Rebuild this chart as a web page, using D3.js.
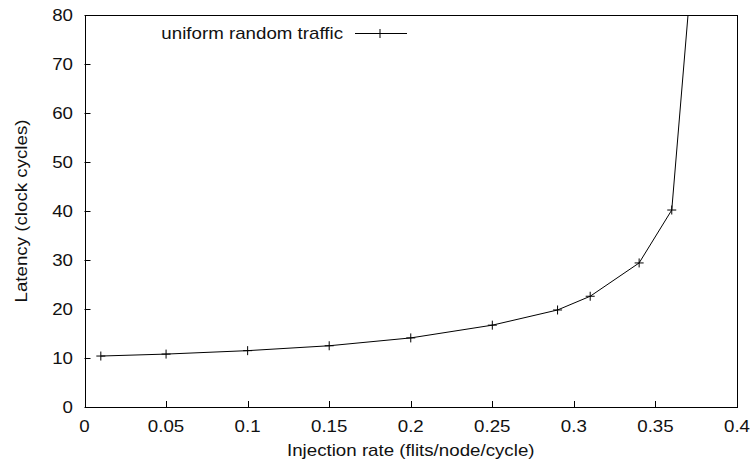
<!DOCTYPE html>
<html>
<head>
<meta charset="utf-8">
<script src="https://cdn.jsdelivr.net/npm/d3@7"></script>
<style>
  body { margin: 0; background: #fff; }
  text { font-family: "Liberation Sans", Arial, sans-serif; font-size: 16px; fill: #111; }
</style>
</head>
<body>
<script>
// injection rate vs latency, uniform random traffic
var injectionRate = [0.01, 0.05, 0.1, 0.15, 0.2, 0.25, 0.29, 0.31, 0.34, 0.36, 0.38];
var latency = [10.4, 10.8, 11.5, 12.5, 14.1, 16.7, 19.8, 22.6, 29.4, 40.2, 120];
var xTicks = [0, 0.05, 0.1, 0.15, 0.2, 0.25, 0.3, 0.35, 0.4];
var yTicks = [0, 10, 20, 30, 40, 50, 60, 70, 80];
var seriesName = "uniform random traffic";

var width = 755, height = 469,
    margin = {top: 15, right: 18, bottom: 62, left: 84.5},
    stretch = 1.17; // reference glyphs are wider than Liberation Sans

var svg = d3.select("body").append("svg")
    .attr("width", width)
    .attr("height", height);

var x = d3.scaleLinear().domain([0, 0.4]).range([margin.left, width - margin.right]);
var y = d3.scaleLinear().domain([0, 80]).range([height - margin.bottom, margin.top]);

function label(g, tx, ty, str, anchor, rot) {
  return g.append("text")
    .attr("transform", "translate(" + tx + "," + ty + ")" + (rot ? " rotate(" + rot + ")" : "") + " scale(" + stretch + ",1)")
    .attr("text-anchor", anchor)
    .text(str);
}

svg.append("clipPath").attr("id", "plot")
  .append("rect")
    .attr("x", x(0)).attr("y", y(80))
    .attr("width", x(0.4) - x(0)).attr("height", y(0) - y(80));

// ticks (inward, no mirror)
svg.append("g").selectAll("line").data(xTicks).join("line")
    .attr("x1", d => Math.round(x(d)) + 0.5).attr("x2", d => Math.round(x(d)) + 0.5)
    .attr("y1", y(0)).attr("y2", y(0) - 6)
    .attr("stroke", "#000");
svg.append("g").selectAll("line").data(yTicks).join("line")
    .attr("y1", d => Math.round(y(d)) + 0.5).attr("y2", d => Math.round(y(d)) + 0.5)
    .attr("x1", x(0)).attr("x2", x(0) + 6)
    .attr("stroke", "#000");

var tl = svg.append("g");
xTicks.forEach(d => label(tl, x(d), y(0) + 25, d, "middle"));
yTicks.forEach(d => label(tl, x(0) - 11.5, y(d) + 5.5, d, "end"));

// border
svg.append("rect")
    .attr("x", Math.round(x(0)) + 0.5).attr("y", Math.round(y(80)) + 0.5)
    .attr("width", Math.round(x(0.4)) - Math.round(x(0)))
    .attr("height", Math.round(y(0)) - Math.round(y(80)))
    .attr("fill", "none").attr("stroke", "#000");

// axis titles
label(svg, (x(0) + x(0.4)) / 2, 456, "Injection rate (flits/node/cycle)", "middle");
label(svg, 26.5, (y(0) + y(80)) / 2, "Latency (clock cycles)", "middle", -90);

// series
var pts = injectionRate.map((r, i) => [r, latency[i]]);
var line = d3.line().x(d => x(d[0])).y(d => y(d[1]));
var plot = svg.append("g").attr("clip-path", "url(#plot)");
plot.append("path").datum(pts)
    .attr("d", line)
    .attr("fill", "none").attr("stroke", "#000").attr("stroke-width", 1);

function cross(g, cx, cy) {
  g.append("path")
    .attr("d", "M" + (cx - 4.5) + "," + cy + "h9M" + cx + "," + (cy - 4.5) + "v9")
    .attr("stroke", "#000").attr("stroke-width", 1).attr("fill", "none");
}
pts.forEach(p => cross(plot, x(p[0]), y(p[1])));

// legend
label(svg, 343, 38.5, seriesName, "end");
svg.append("line")
    .attr("x1", 355).attr("x2", 407).attr("y1", 33.5).attr("y2", 33.5)
    .attr("stroke", "#000");
cross(svg, 380, 33.5);
</script>
</body>
</html>
